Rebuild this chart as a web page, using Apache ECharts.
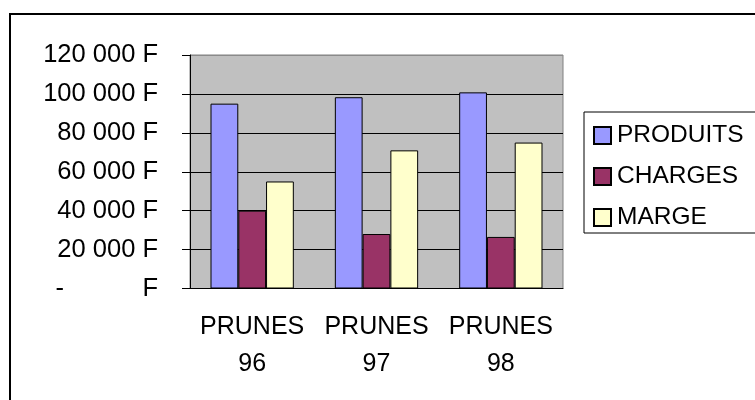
<!DOCTYPE html>
<html>
<head>
<meta charset="utf-8">
<style>
  html, body { margin: 0; padding: 0; background: #fff; }
  #chart { width: 755px; height: 400px; }
</style>
<script src="https://cdn.jsdelivr.net/npm/echarts@6/dist/echarts.min.js"></script>
</head>
<body>
<div id="chart"></div>
<script>
// Produits, charges et marge par campagne (en francs)
const categories = ['PRUNES\n96', 'PRUNES\n97', 'PRUNES\n98'];
const produits = [95000, 98300, 100800];
const charges = [40000, 28000, 26500];
const marge = [55000, 71000, 75000];
const seriesNames = ['PRODUITS', 'CHARGES', 'MARGE'];
const seriesColors = ['#9999FF', '#993366', '#FFFFCC'];

const FONT = '"Liberation Sans", Arial, sans-serif';

// Format comptable : « 120 000 F », zéro affiché « -   F »
function formatFrancs(v) {
  if (v === 0) return '{dash|-}{unit|F}';
  const s = String(Math.round(v)).replace(/\B(?=(\d{3})+(?!\d))/g, ' ');
  return s + ' F';
}

const chart = echarts.init(document.getElementById('chart'), null, { renderer: 'canvas' });

function barSeries(i, data) {
  return {
    name: seriesNames[i],
    type: 'bar',
    data: data,
    barGap: '0%',
    barCategoryGap: '33%',
    itemStyle: { color: seriesColors[i], borderColor: '#000', borderWidth: 1 }
  };
}

chart.setOption({
  animation: false,
  backgroundColor: '#fff',
  textStyle: { fontFamily: FONT },
  graphic: [{
    type: 'rect',
    shape: { x: 10, y: 14, width: 1000, height: 1000 },
    style: { fill: 'none', stroke: '#000', lineWidth: 2 },
    silent: true,
    z: 100
  }],
  grid: {
    left: 190, right: 192, top: 55, bottom: 111.5,
    show: true, backgroundColor: '#C0C0C0', borderColor: '#808080', borderWidth: 1
  },
  legend: {
    orient: 'vertical',
    left: 584, top: 112,
    padding: [11, 60, 3, 9],
    itemWidth: 17, itemHeight: 17, itemGap: 16,
    borderColor: '#000', borderWidth: 1,
    icon: 'rect',
    textStyle: { fontFamily: FONT, fontSize: 24.5, color: '#000', lineHeight: 24, padding: [0, 0, 0, 1] },
    data: seriesNames
  },
  xAxis: {
    type: 'category',
    data: categories,
    axisLine: { lineStyle: { color: '#000', width: 1 } },
    axisTick: { length: 8, lineStyle: { color: '#000' } },
    axisLabel: {
      color: '#000', fontFamily: FONT, fontSize: 25, lineHeight: 37, margin: 20, interval: 0
    }
  },
  yAxis: {
    type: 'value',
    min: 0, max: 120000, interval: 20000,
    axisLine: { show: true, lineStyle: { color: '#000', width: 1 } },
    axisTick: { show: true, length: 8, lineStyle: { color: '#000' } },
    splitLine: { lineStyle: { color: ['#000', '#000', '#000', '#000', '#000', '#000', '#8a8a8a'], width: 1 } },
    axisLabel: {
      color: '#000', fontFamily: FONT, fontSize: 25.5, margin: 32,
      formatter: formatFrancs,
      rich: {
        dash: { fontFamily: FONT, fontSize: 25.5, color: '#000', width: 87, align: 'left' },
        unit: { fontFamily: FONT, fontSize: 25.5, color: '#000' }
      }
    }
  },
  series: [barSeries(0, produits), barSeries(1, charges), barSeries(2, marge)]
});
</script>
</body>
</html>
